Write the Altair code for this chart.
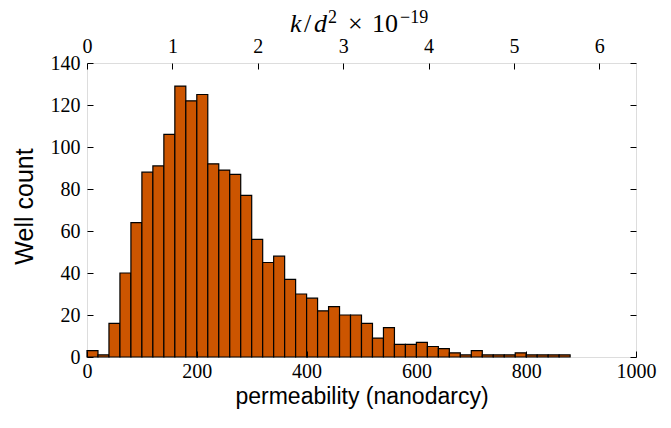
import altair as alt
import pandas as pd

# ---- data ----
bin_width = 20
counts = [3, 1, 16, 40, 64, 88, 91, 106, 129, 122, 125, 92, 89, 87, 77, 56,
          45, 48, 37, 30, 28, 22, 24, 20, 20, 16, 9, 14, 6, 6, 7, 5, 4, 2,
          1, 3, 1, 1, 1, 2, 1, 1, 1, 1]
bin_starts = [i * bin_width for i in range(len(counts))]
bin_ends = [s + bin_width for s in bin_starts]

x_ticks = [0, 200, 400, 600, 800, 1000]
y_ticks = [0, 20, 40, 60, 80, 100, 120, 140]
top_ticks = [0, 1, 2, 3, 4, 5, 6]
top_max = 6.43          # k/d^2 (x1e-19) value at 1000 nanodarcy

df = pd.DataFrame({"start": bin_starts, "end": bin_ends, "count": counts})
top_df = pd.DataFrame({"k": top_ticks})

serif = "Liberation Serif"
sans = "Liberation Sans"
W, H = 549, 294

common_axis = dict(domain=False, grid=False, tickColor="black", tickWidth=1,
                   tickSize=6, offset=-6, labelColor="black", labelFont=serif,
                   labelFontSize=20, labelFlush=False, zindex=1)

bars = alt.Chart(df).mark_bar(color="#CC5500", stroke="black", strokeWidth=1.2).encode(
    x=alt.X("start:Q",
            scale=alt.Scale(domain=[0, 1000], nice=False, zero=False),
            axis=alt.Axis(orient="bottom", values=x_ticks, labelPadding=4, format="d",
                          title="permeability (nanodarcy)", titleFont=sans,
                          titleFontSize=23, titleFontWeight="normal", titleColor="black",
                          titleX=W / 2, titleY=52, titleBaseline="alphabetic",
                          **common_axis)),
    x2="end:Q",
    y=alt.Y("count:Q",
            scale=alt.Scale(domain=[0, 140], nice=False),
            axis=alt.Axis(orient="left", values=y_ticks, labelPadding=7, format="d",
                          title="Well count", titleFont=sans, titleFontSize=25,
                          titleFontWeight="normal", titleColor="black",
                          titleX=-61, titleY=143, titleAngle=270,
                          titleBaseline="alphabetic", **common_axis)),
    y2=alt.datum(0),
)

right_ticks = alt.Chart(df).mark_point(opacity=0).encode(
    y=alt.Y("count:Q",
            scale=alt.Scale(domain=[0, 140], nice=False),
            axis=alt.Axis(orient="right", values=y_ticks, labels=False, title="",
                          **{k: v for k, v in common_axis.items()
                             if not k.startswith("label")})),
)

top_axis = alt.Chart(top_df).mark_point(opacity=0).encode(
    x=alt.X("k:Q",
            scale=alt.Scale(domain=[0, top_max], nice=False, zero=False),
            axis=alt.Axis(orient="top", values=top_ticks, labelPadding=7, format="d",
                          title="", **common_axis)),
)


def piece(s, x, y, size, style="normal"):
    return alt.Chart(pd.DataFrame({"t": [s]})).mark_text(
        align="left", baseline="alphabetic", font=serif, fontSize=size,
        fontStyle=style, color="black").encode(
        x=alt.value(x), y=alt.value(y), text="t:N")


title_parts = [
    piece("k", 203, -31, 26, "italic"),
    piece("/", 217, -31, 26),
    piece("d", 227, -31, 26, "italic"),
    piece("2", 241, -40, 18),
    piece("×", 261, -31, 26),
    piece("10", 285, -31, 26),
    piece("−19", 313, -40, 18),
]

chart = alt.layer(bars, right_ticks, top_axis, *title_parts).resolve_scale(
    x="independent"
).resolve_axis(
    y="independent"
).properties(
    width=W, height=H,
    autosize=alt.AutoSizeParams(type="none"),
    padding={"left": 79, "top": 55, "right": 21, "bottom": 52},
).configure_view(
    stroke="black", strokeWidth=1.5
).configure(background="white")

chart.save("out.html", embed_options={"renderer": "svg", "actions": False})
